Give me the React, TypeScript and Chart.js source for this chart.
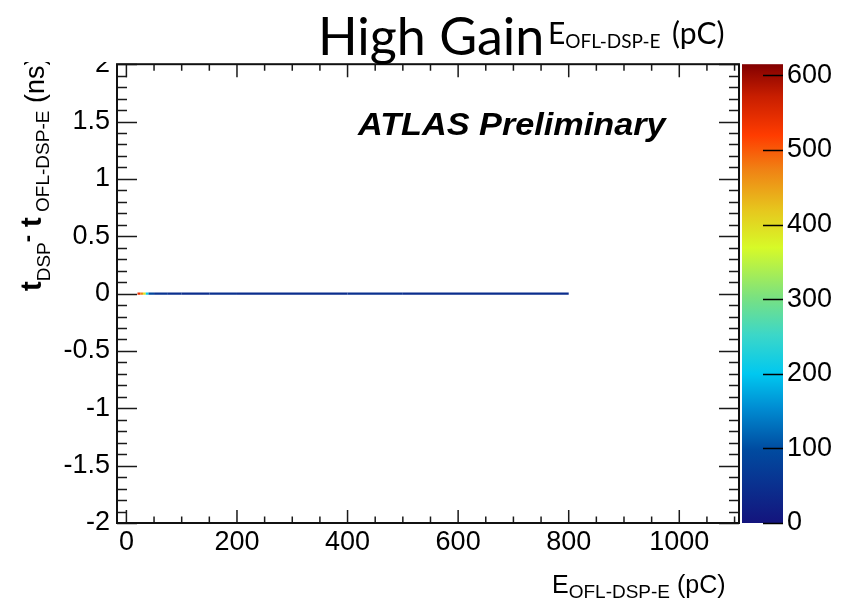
import React, { useEffect, useRef } from "react";
import { Chart, registerables } from "chart.js";

Chart.register(...registerables);

// ---- data ----
const energyBinEdges = [20, 25, 30, 35, 40, 50, 75, 100, 150, 200, 300, 400, 500, 600, 700, 800];
const timeDifference = [0, 0, 0, 0, 0, 0, 0, 0, 0, 0, 0, 0, 0, 0, 0, 0];
const binCounts = [540, 470, 390, 210, 90, 55, 48, 45, 50, 45, 45, 50, 45, 45, 45];

const xTickValues = [0, 200, 400, 600, 800, 1000];
const yTickValues = [-2, -1.5, -1, -0.5, 0, 0.5, 1, 1.5, 2];
const zTickValues = [0, 100, 200, 300, 400, 500, 600];

const xRange = [-17, 1108];
const yRange = [-2, 2];
const zRange = [0, 615];

// ---- palette (style) ----
const paletteStops: [number, number, number, number][] = [
  [0.0, 20, 20, 125],
  [0.16, 0, 75, 160],
  [0.25, 0, 140, 210],
  [0.325, 0, 200, 240],
  [0.41, 60, 215, 200],
  [0.49, 120, 225, 130],
  [0.6, 215, 250, 40],
  [0.68, 230, 200, 30],
  [0.77, 240, 130, 20],
  [0.845, 255, 60, 0],
  [0.93, 200, 30, 0],
  [1.0, 130, 0, 0],
];

function colorFor(count: number): string {
  const f = Math.max(0, Math.min(1, (count - zRange[0]) / (zRange[1] - zRange[0])));
  for (let i = 1; i < paletteStops.length; i++) {
    const a = paletteStops[i - 1];
    const b = paletteStops[i];
    if (f <= b[0]) {
      const t = (f - a[0]) / (b[0] - a[0]);
      const r = Math.round(a[1] + (b[1] - a[1]) * t);
      const g = Math.round(a[2] + (b[2] - a[2]) * t);
      const bl = Math.round(a[3] + (b[3] - a[3]) * t);
      return `rgb(${r},${g},${bl})`;
    }
  }
  const l = paletteStops[paletteStops.length - 1];
  return `rgb(${l[1]},${l[2]},${l[3]})`;
}

const TICK_FONT = "Liberation Sans, Arial, sans-serif";

const rootPlugin = {
  id: "rootFrame",
  afterDraw(chart: any) {
    const ctx = chart.ctx as CanvasRenderingContext2D;
    const { left, right, top, bottom } = chart.chartArea;
    const xs = chart.scales.x;
    const ys = chart.scales.y;
    const zs = chart.scales.z;
    ctx.save();

    // colour bar
    const cbL = right + 3;
    const cbR = right + 44;
    const zTop = zs.getPixelForValue(zRange[1]);
    const zBot = zs.getPixelForValue(zRange[0]);
    const grad = ctx.createLinearGradient(0, zBot, 0, zTop);
    paletteStops.forEach((s) => grad.addColorStop(s[0], `rgb(${s[1]},${s[2]},${s[3]})`));
    ctx.fillStyle = grad;
    ctx.fillRect(cbL, zTop, cbR - cbL, zBot - zTop);
    ctx.strokeStyle = "#000";
    ctx.lineWidth = 1.5;
    zTickValues.forEach((v) => {
      const p = Math.round(zs.getPixelForValue(v)) + 0.5;
      ctx.beginPath();
      ctx.moveTo(cbR - 20, p);
      ctx.lineTo(cbR, p);
      ctx.stroke();
    });

    // ticks (inside the frame)
    ctx.strokeStyle = "#1a1a1a";
    ctx.lineWidth = 1.5;
    for (let v = 0; v <= 1100; v += 50) {
      const p = xs.getPixelForValue(v);
      const len = v % 200 === 0 ? 13 : 6.5;
      ctx.beginPath();
      ctx.moveTo(p, bottom);
      ctx.lineTo(p, bottom - len);
      ctx.moveTo(p, top);
      ctx.lineTo(p, top + len);
      ctx.stroke();
    }
    for (let i = -20; i <= 20; i++) {
      const v = i / 10;
      const p = Math.round(ys.getPixelForValue(v)) + 0.5;
      const len = i % 5 === 0 ? 20 : 10;
      ctx.beginPath();
      ctx.moveTo(left, p);
      ctx.lineTo(left + len, p);
      ctx.moveTo(right, p);
      ctx.lineTo(right - len, p);
      ctx.stroke();
    }

    // frame
    ctx.strokeStyle = "#111";
    ctx.lineWidth = 2;
    ctx.strokeRect(left, top, right - left, bottom - top);

    // ATLAS label
    ctx.fillStyle = "#000";
    ctx.textBaseline = "alphabetic";
    ctx.textAlign = "left";
    ctx.save();
    ctx.translate(358, 135);
    ctx.scale(1.07, 1);
    ctx.font = `bold italic 32px ${TICK_FONT}`;
    ctx.fillText("ATLAS Preliminary", 0, 0);
    ctx.restore();

    // x axis title
    ctx.font = `25px ${TICK_FONT}`;
    ctx.fillText("E", 552, 593);
    const w = ctx.measureText("E").width;
    ctx.font = `19px ${TICK_FONT}`;
    ctx.fillText("OFL-DSP-E", 552 + w, 598);
    const ws = ctx.measureText("OFL-DSP-E").width;
    ctx.font = `25px ${TICK_FONT}`;
    ctx.fillText(" (pC)", 552 + w + ws, 593);

    // y axis title (rotated)
    ctx.save();
    ctx.translate(41, 291);
    ctx.rotate(-Math.PI / 2);
    let pos = 0;
    const piece = (txt: string, font: string, dy: number) => {
      ctx.font = font;
      ctx.fillText(txt, pos, dy);
      pos += ctx.measureText(txt).width;
    };
    piece("t", `bold 29px ${TICK_FONT}`, 0);
    piece("DSP", `19px ${TICK_FONT}`, 9);
    piece("-", `bold 22px ${TICK_FONT}`, -7);
    piece(" t", `bold 29px ${TICK_FONT}`, 0);
    piece(" OFL-DSP-E", `19px ${TICK_FONT}`, 8);
    piece(" (ns)", `27px ${TICK_FONT}`, 3);
    ctx.restore();

    // cover strip of the slide title
    ctx.fillStyle = "#fff";
    ctx.fillRect(0, 0, chart.width, 62);

    // slide title
    ctx.fillStyle = "#000";
    ctx.font = "52px Lato, sans-serif";
    ctx.fillText("High Gain", 318, 55);
    ctx.font = "30px Lato, sans-serif";
    ctx.fillText("E", 548, 44);
    const we = ctx.measureText("E").width;
    ctx.font = "19px Lato, sans-serif";
    ctx.fillText("OFL-DSP-E", 548 + we, 48);
    const wsub = ctx.measureText("OFL-DSP-E").width;
    ctx.font = "30px Lato, sans-serif";
    ctx.fillText("(pC)", Math.max(672, 548 + we + wsub + 6), 44);

    ctx.restore();
  },
};

export default function App() {
  const ref = useRef<HTMLCanvasElement | null>(null);
  useEffect(() => {
    if (!ref.current) return;
    const points = energyBinEdges.map((x, i) => ({ x, y: timeDifference[i] }));
    const chart = new Chart(ref.current, {
      type: "line",
      data: {
        datasets: [
          {
            data: points,
            borderWidth: 2.2,
            pointRadius: 0,
            tension: 0,
            borderColor: colorFor(binCounts[binCounts.length - 1]),
            segment: {
              borderColor: (c: any) => colorFor(binCounts[c.p0DataIndex]),
            },
          } as any,
        ],
      },
      options: {
        animation: false,
        responsive: false,
        devicePixelRatio: 1,
        layout: { padding: { top: 61, left: 0, right: 0, bottom: 0 } },
        plugins: {
          legend: { display: false },
          tooltip: { enabled: false },
          title: { display: false },
        },
        scales: {
          x: {
            type: "linear",
            position: "bottom",
            min: xRange[0],
            max: xRange[1],
            afterBuildTicks: (s: any) => {
              s.ticks = xTickValues.map((v) => ({ value: v }));
            },
            ticks: {
              font: { family: TICK_FONT, size: 27 },
              color: "#000",
              padding: 3,
              maxRotation: 0,
              autoSkip: false,
              callback: (v: any) => String(v),
            },
            grid: { display: false, drawTicks: false },
            border: { display: false },
            afterFit: (s: any) => {
              s.height = 83;
            },
          },
          y: {
            type: "linear",
            position: "left",
            min: yRange[0],
            max: yRange[1],
            afterBuildTicks: (s: any) => {
              s.ticks = yTickValues.map((v) => ({ value: v }));
            },
            ticks: {
              font: { family: TICK_FONT, size: 27 },
              color: "#000",
              padding: 7,
              autoSkip: false,
              callback: (v: any) => String(v),
            },
            grid: { display: false, drawTicks: false },
            border: { display: false },
            afterFit: (s: any) => {
              s.width = 117;
            },
          },
          z: {
            type: "linear",
            position: "right",
            min: zRange[0],
            max: zRange[1],
            afterBuildTicks: (s: any) => {
              s.ticks = zTickValues.map((v) => ({ value: v }));
            },
            ticks: {
              font: { family: TICK_FONT, size: 27 },
              color: "#000",
              padding: 48,
              autoSkip: false,
              callback: (v: any) => String(v),
            },
            grid: { display: false, drawTicks: false },
            border: { display: false },
            afterFit: (s: any) => {
              s.width = 110;
            },
          },
        },
      } as any,
      plugins: [rootPlugin],
    });
    return () => chart.destroy();
  }, []);
  return (
    <div style={{ position: "fixed", left: 0, top: 0, width: 849, height: 606, background: "#fff" }}>
      <canvas ref={ref} width={849} height={606} style={{ display: "block" }} />
    </div>
  );
}
